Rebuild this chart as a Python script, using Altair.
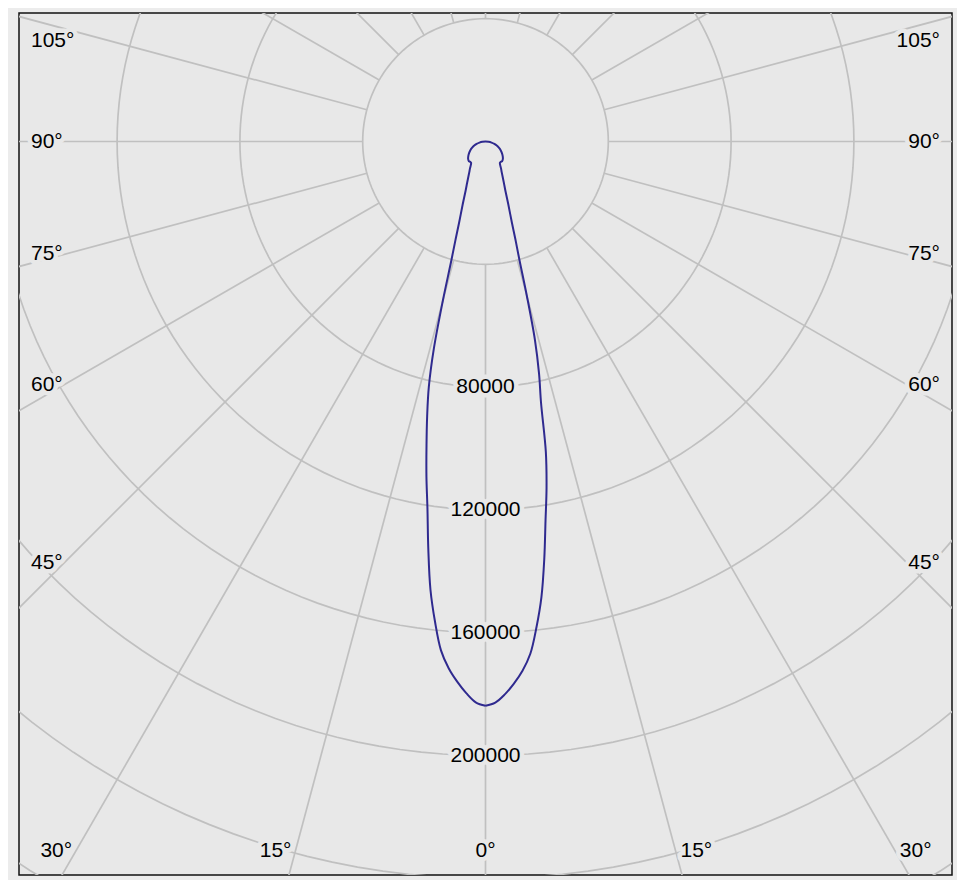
import math
import pandas as pd
import altair as alt

# ---- data ----
# gamma angle (deg, 0 = straight down) and luminous intensity (cd)
gamma = [0, 1, 2, 3, 4, 5, 6, 7, 8, 9, 10, 11, 12, 13, 14, 15, 16, 17, 18,
         20, 22, 24, 26, 28, 30, 32, 34, 36, 38, 40,
         45, 50, 55, 60, 65, 70, 75, 80, 85, 90]
# left half of the curve (C180 plane)
c180 = [183800, 182700, 179800, 176200, 172000, 166400, 157300, 147100, 133900, 120900,
        110800, 100700, 91400, 82100, 69600, 53700, 40500, 33300, 27900,
        21600, 17300, 14700, 12700, 11200, 10100, 9000, 8400, 8300, 8300, 8400,
        8000, 7300, 6500, 5700, 4800, 3900, 3000, 2000, 1000, 0]
# right half of the curve (C0 plane)
c0 = [183800, 182800, 180200, 176800, 172800, 167500, 159000, 149500, 137500, 125000,
      114500, 103000, 87000, 77500, 66500, 52000, 40000, 33300, 27900,
      21600, 17300, 14700, 12700, 11200, 10100, 9000, 8400, 8300, 8300, 8400,
      8000, 7300, 6500, 5700, 4800, 3900, 3000, 2000, 1000, 0]

grid_radii = [40000, 80000, 120000, 160000, 200000, 240000, 280000]
radial_labels = [80000, 120000, 160000, 200000]
spoke_angles = list(range(0, 360, 15))
side_label_angles = [45, 60, 75, 90, 105]
bottom_label_angles = [15, 30]

# ---- layout (pixels of the plot area -> data units) ----
W, H = 933, 862
K = 3.07 / 1000.0           # px per cd
CX, CY = 466.5, 128.5       # polar centre inside the plot area (px)
xdom = [-CX / K, (W - CX) / K]
ydom = [(CY - H) / K, CY / K]


def px_x(px):
    return (px - CX) / K


def px_y(py):
    return (CY - py) / K


BG = "#e8e8e8"
GRID = "#c0c0c0"
FONT = "Liberation Sans"
FS = 21

xs = alt.Scale(domain=xdom, nice=False, zero=False)
ys = alt.Scale(domain=ydom, nice=False, zero=False)

# circles
rows = []
for r in grid_radii:
    for a in range(0, 361, 2):
        t = math.radians(a)
        rows.append({"r": r, "a": a, "x": r * math.sin(t), "y": -r * math.cos(t)})
circles_df = pd.DataFrame(rows)

# spokes
R0, R1 = grid_radii[0], 400000
srows = []
for g in spoke_angles:
    t = math.radians(g)
    srows.append({"g": g, "x": R0 * math.sin(t), "y": -R0 * math.cos(t),
                  "x2": R1 * math.sin(t), "y2": -R1 * math.cos(t)})
spokes_df = pd.DataFrame(srows)

# curve: left half from 0 deg up to the origin, then right half back down
crow = []
for g, v in zip(gamma, c180):
    t = math.radians(g)
    crow.append({"o": g, "x": -v * math.sin(t), "y": -v * math.cos(t)})
for g, v in zip(gamma[:-1], c0[:-1]):
    t = math.radians(g)
    crow.append({"o": 181 - g, "x": v * math.sin(t), "y": -v * math.cos(t)})
curve_df = pd.DataFrame(crow)

# radial labels
rad_df = pd.DataFrame({"x": [0.0] * len(radial_labels),
                       "y": [-v for v in radial_labels],
                       "t": [str(v) for v in radial_labels]})

# side angle labels (plot-area px)
d_side = CX - 45
y_top_limit = px_y(28)
left_rows, right_rows = [], []
for g in side_label_angles:
    yy = (-d_side / math.tan(math.radians(g))) / K if g != 90 else 0.0
    yy = min(yy, y_top_limit)
    left_rows.append({"x": px_x(12), "y": yy, "t": f"{g}°"})
    right_rows.append({"x": px_x(W - 12), "y": yy, "t": f"{g}°"})
left_df = pd.DataFrame(left_rows)
right_df = pd.DataFrame(right_rows)

# bottom angle labels
yb = px_y(850.5 - 13)
dyb = -yb
bl_df = pd.DataFrame({"x": [-dyb * math.tan(math.radians(g)) for g in bottom_label_angles],
                      "y": [yb] * len(bottom_label_angles),
                      "t": [f"{g}°" for g in bottom_label_angles]})
br_df = pd.DataFrame({"x": [dyb * math.tan(math.radians(g)) for g in bottom_label_angles],
                      "y": [yb] * len(bottom_label_angles),
                      "t": [f"{g}°" for g in bottom_label_angles]})
b0_df = pd.DataFrame({"x": [0.0], "y": [yb], "t": ["0°"]})

X = alt.X("x:Q", scale=xs, axis=None)
Y = alt.Y("y:Q", scale=ys, axis=None)

circles = alt.Chart(circles_df).mark_line(color=GRID, strokeWidth=1.7, clip=True).encode(
    x=X, y=Y, detail="r:N", order="a:Q")
spokes = alt.Chart(spokes_df).mark_rule(color=GRID, strokeWidth=1.7, clip=True).encode(
    x=X, y=Y, x2="x2:Q", y2="y2:Q")
curve = alt.Chart(curve_df).mark_line(color="#2f2a8f", strokeWidth=2, clip=True,
                                      interpolate="catmull-rom").encode(
    x=X, y=Y, order="o:Q")


def label_layers(df, align, dx=0):
    halo = alt.Chart(df).mark_text(align=align, baseline="middle", dx=dx, font=FONT,
                                   fontSize=FS, fill=BG, stroke=BG, strokeWidth=9,
                                   strokeJoin="round").encode(x=X, y=Y, text="t:N")
    txt = alt.Chart(df).mark_text(align=align, baseline="middle", dx=dx, font=FONT,
                                  fontSize=FS, color="#000000").encode(x=X, y=Y, text="t:N")
    return [halo, txt]


layers = [circles, spokes, curve]
layers += label_layers(rad_df, "center")
layers += label_layers(left_df, "left")
layers += label_layers(right_df, "right")
layers += label_layers(bl_df, "right", -4)
layers += label_layers(br_df, "left", 5)
layers += label_layers(b0_df, "center")

chart = alt.layer(*layers).properties(
    width=W, height=H,
    autosize=alt.AutoSizeParams(type="none"),
    padding={"left": 11, "top": 5, "right": 5, "bottom": 5},
    background="#ececec",
).configure_view(fill=BG, stroke="#111111", strokeWidth=1.5)

chart.save("out.html", embed_options={"renderer": "svg", "actions": False})
